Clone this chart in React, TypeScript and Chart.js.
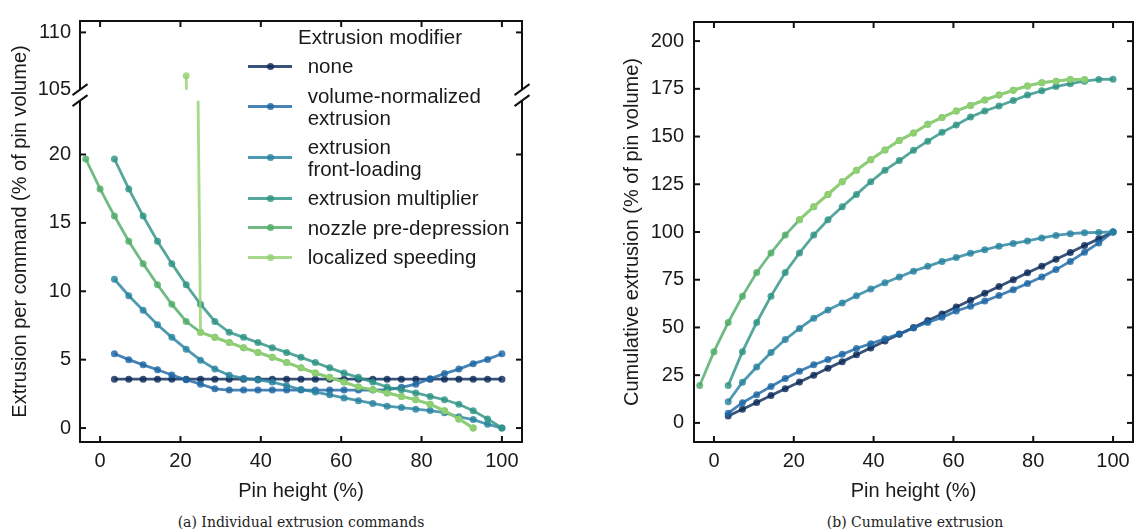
import React, { useEffect, useRef } from 'react';
import { Chart, registerables } from 'chart.js';

Chart.register(...registerables);

// ---------- data ----------
// pin-height positions of the printed commands (k = -1 .. 28)
const PIN_HEIGHT = [
  -3.57, 0, 3.57, 7.14, 10.71, 14.29, 17.86, 21.43, 25.0, 28.57, 32.14, 35.71, 39.29, 42.86, 46.43,
  50.0, 53.57, 57.14, 60.71, 64.29, 67.86, 71.43, 75.0, 78.57, 82.14, 85.71, 89.29, 92.86, 96.43, 100.0,
];

const X_TICKS = [0, 20, 40, 60, 80, 100];
const Y_TICKS_LOWER = [0, 5, 10, 15, 20];
const Y_TICKS_UPPER = [105, 110];
const Y_TICKS_CUM = [0, 25, 50, 75, 100, 125, 150, 175, 200];

const SERIES_LABELS = [
  ['none'],
  ['volume-normalized', 'extrusion'],
  ['extrusion', 'front-loading'],
  ['extrusion multiplier'],
  ['nozzle pre-depression'],
  ['localized speeding'],
];

// index into PIN_HEIGHT of the first value of each series
const SERIES_START = [2, 2, 2, 2, 0, 7];

// (a) individual extrusion commands (% of pin volume)
const NONE_CMD = [
  3.57, 3.57, 3.57, 3.57, 3.57, 3.57, 3.57, 3.57, 3.57, 3.57, 3.57, 3.57, 3.57, 3.57,
  3.57, 3.57, 3.57, 3.57, 3.57, 3.57, 3.57, 3.57, 3.57, 3.57, 3.57, 3.57, 3.57, 3.57,
];
const VOLNORM_CMD = [
  5.43, 5.0, 4.62, 4.26, 3.88, 3.53, 3.21, 2.87, 2.78, 2.78, 2.78, 2.78, 2.78, 2.78,
  2.78, 2.78, 2.78, 2.78, 2.78, 2.8, 2.98, 3.21, 3.6, 3.98, 4.31, 4.71, 5.02, 5.43,
];
const FRONTLOAD_CMD = [
  10.88, 9.67, 8.62, 7.55, 6.63, 5.77, 4.96, 4.32, 3.86, 3.64, 3.52, 3.36, 3.1, 2.82,
  2.63, 2.43, 2.2, 2.0, 1.8, 1.6, 1.5, 1.38, 1.28, 1.12, 0.82, 0.62, 0.28, 0,
];
const MULTIPLIER_CMD = [
  19.67, 17.48, 15.5, 13.66, 12.02, 10.48, 9.05, 7.79, 7.0, 6.63, 6.25, 5.87, 5.53, 5.17,
  4.79, 4.4, 4.02, 3.71, 3.36, 3.0, 2.8, 2.57, 2.31, 2.07, 1.74, 1.26, 0.67, 0,
];
const NOZZLE_CMD = [
  19.67, 17.48, 15.5, 13.66, 12.02, 10.48, 9.05, 7.79, 7.0, 6.63, 6.25, 5.87, 5.53, 5.17,
  4.79, 4.4, 4.02, 3.71, 3.36, 3.0, 2.8, 2.57, 2.31, 2.07, 1.74, 1.26, 0.67, 0,
];
const SPEEDING_CMD = [
  106.2, 7.0, 6.63, 6.25, 5.87, 5.53, 5.17, 4.79, 4.4, 4.02, 3.71, 3.36, 3.0, 2.8,
  2.57, 2.31, 2.07, 1.74, 1.26, 0.67, 0,
];

// (b) cumulative extrusion (% of pin volume)
const NONE_CUM = [
  3.6, 7.1, 10.7, 14.3, 17.9, 21.4, 25.0, 28.6, 32.1, 35.7, 39.3, 42.9, 46.4, 50.0,
  53.6, 57.1, 60.7, 64.3, 67.9, 71.4, 75.0, 78.6, 82.1, 85.7, 89.3, 92.9, 96.4, 100.0,
];
const VOLNORM_CUM = [
  5.1, 10.6, 14.8, 19.1, 23.3, 27.1, 30.5, 33.2, 35.9, 39.0, 41.5, 44.1, 46.6, 49.7,
  52.6, 55.3, 58.6, 61.1, 63.8, 66.7, 69.8, 73.0, 76.4, 80.3, 84.6, 89.4, 94.3, 100.0,
];
const FRONTLOAD_CUM = [
  11.1, 21.3, 29.3, 36.9, 43.7, 49.5, 54.8, 59.1, 62.8, 66.6, 70.1, 73.4, 76.4, 79.5,
  82.0, 84.6, 86.6, 88.9, 90.7, 92.6, 94.0, 95.3, 96.9, 98.2, 99.1, 99.6, 99.8, 100.0,
];
const MULTIPLIER_CUM = [
  19.6, 37.3, 52.6, 66.4, 78.8, 89.0, 98.4, 106.4, 113.2, 119.7, 126.3, 132.4, 137.4, 142.8,
  147.6, 152.2, 156.1, 160.2, 163.4, 166.0, 168.9, 171.7, 174.0, 176.2, 177.7, 179.0, 179.9, 180.0,
];
const NOZZLE_CUM = [
  19.6, 37.3, 52.6, 66.4, 78.8, 89.0, 98.4, 106.4, 113.2, 119.7, 126.3, 132.4, 137.9, 143.0,
  147.9, 151.8, 156.4, 160.0, 163.4, 166.3, 169.2, 171.7, 174.3, 176.5, 178.2, 179.0, 179.9, 179.9,
];
const SPEEDING_CUM = [
  106.4, 113.2, 119.7, 126.3, 132.4, 137.9, 143.0, 147.9, 151.8, 156.4, 160.0, 163.4, 166.3, 169.2,
  171.7, 174.3, 176.5, 178.2, 179.0, 179.9, 179.9,
];

// ---------- style ----------
const COLORS = [
  'rgba(14, 44, 90, 0.82)',
  'rgba(30, 104, 165, 0.82)',
  'rgba(42, 132, 160, 0.82)',
  'rgba(46, 148, 132, 0.82)',
  'rgba(80, 172, 105, 0.82)',
  'rgba(148, 210, 114, 0.82)',
];

const FONT = "'Liberation Sans', Arial, Helvetica, sans-serif";
const TEXT = '#1a1a1a';
const FS = 20;

function pts(start: number, values: number[]) {
  return values.map((v, i) => ({ x: PIN_HEIGHT[start + i], y: v }));
}

function lineDs(idx: number, values: number[], yAxisID: string, clip: any) {
  return {
    label: SERIES_LABELS[idx].join(' '),
    data: pts(SERIES_START[idx], values),
    borderColor: COLORS[idx],
    backgroundColor: COLORS[idx],
    pointBackgroundColor: COLORS[idx],
    pointBorderWidth: 0,
    pointRadius: 3.5,
    borderWidth: 2.8,
    tension: 0,
    yAxisID,
    xAxisID: 'x',
    order: 5 - idx,
    clip,
  };
}

function setTicks(values: number[]) {
  return (scale: any) => {
    scale.ticks = values.map((v) => ({ value: v }));
  };
}

function framePlugin(broken: boolean) {
  return {
    id: 'frame',
    afterDraw(chart: any) {
      const { ctx, chartArea } = chart;
      const { left, right, top, bottom } = chartArea;
      const xs = chart.scales.x;
      const TL = 6;
      ctx.save();
      ctx.strokeStyle = '#111';
      ctx.lineWidth = 2;
      const line = (x1: number, y1: number, x2: number, y2: number) => {
        ctx.beginPath();
        ctx.moveTo(x1, y1);
        ctx.lineTo(x2, y2);
        ctx.stroke();
      };
      ctx.lineCap = 'square';
      line(left, top, right, top);
      line(left, bottom, right, bottom);
      ctx.lineCap = 'butt';
      let yScales: any[] = [];
      let b1 = -1e9;
      let b2 = -1e9;
      if (broken) {
        const up = chart.scales.yTop;
        const lo = chart.scales.y;
        b1 = up.bottom - 5.5;
        b2 = lo.top + 5.5;
        for (const ex of [left, right]) {
          line(ex, top, ex, b1);
          line(ex, b2, ex, bottom);
          line(ex - 7.5, b1 + 5.5, ex + 7.5, b1 - 5.5);
          line(ex - 7.5, b2 + 5.5, ex + 7.5, b2 - 5.5);
        }
        yScales = [up, lo];
      } else {
        line(left, top, left, bottom);
        line(right, top, right, bottom);
        yScales = [chart.scales.y];
      }
      for (const t of xs.ticks) {
        const px = xs.getPixelForValue(t.value);
        line(px, bottom, px, bottom - TL);
        line(px, top, px, top + TL);
      }
      for (const ys of yScales) {
        for (const t of ys.ticks) {
          const py = ys.getPixelForValue(t.value);
          if (py > b1 - 3 && py < b2 + 3) continue;
          line(left, py, left + TL, py);
          line(right, py, right - TL, py);
        }
      }
      ctx.restore();
    },
  };
}

function xScale() {
  return {
    type: 'linear',
    position: 'bottom',
    min: -5,
    max: 105,
    afterBuildTicks: setTicks(X_TICKS),
    afterFit: (s: any) => {
      s.height = 63;
    },
    grid: { display: false, drawTicks: false },
    border: { display: false },
    ticks: { padding: 7, maxRotation: 0, color: TEXT, font: { size: FS, family: FONT } },
    title: {
      display: true,
      text: 'Pin height (%)',
      color: TEXT,
      font: { size: FS, family: FONT },
      padding: { top: 0, bottom: 2 },
    },
  };
}

function leftConfig(): any {
  const lowerClip = { left: 8, right: 8, top: -5.5, bottom: 8 };
  const upperClip = { left: 8, right: 8, top: 8, bottom: -5.5 };
  const datasets = [
    lineDs(0, NONE_CMD, 'y', lowerClip),
    lineDs(1, VOLNORM_CMD, 'y', lowerClip),
    lineDs(2, FRONTLOAD_CMD, 'y', lowerClip),
    lineDs(3, MULTIPLIER_CMD, 'y', lowerClip),
    lineDs(4, NOZZLE_CMD, 'y', lowerClip),
    lineDs(5, SPEEDING_CMD, 'y', lowerClip),
    lineDs(5, SPEEDING_CMD, 'yTop', upperClip),
  ];
  return {
    type: 'line',
    data: { datasets },
    plugins: [framePlugin(true)],
    options: {
      responsive: false,
      animation: false,
      events: [],
      layout: { padding: { left: 0, top: 11, right: 38, bottom: 0 } },
      plugins: { legend: { display: false }, tooltip: { enabled: false } },
      scales: {
        x: xScale(),
        yT: {
          type: 'linear',
          position: 'left',
          weight: 10,
          afterFit: (s: any) => {
            s.width = 38;
          },
          grid: { display: false, drawTicks: false },
          border: { display: false },
          ticks: { display: false },
          title: {
            display: true,
            text: 'Extrusion per command (% of pin volume)',
            color: TEXT,
            font: { size: FS, family: FONT },
            padding: { top: 8, bottom: 0 },
          },
        },
        yTop: {
          type: 'linear',
          position: 'left',
          stack: 'broken',
          stackWeight: 75.9,
          weight: 5,
          min: 104.5,
          max: 111,
          afterBuildTicks: setTicks(Y_TICKS_UPPER),
          afterFit: (s: any) => {
            s.width = 42;
          },
          grid: { display: false, drawTicks: false },
          border: { display: false },
          ticks: { padding: 9, color: TEXT, font: { size: FS, family: FONT } },
        },
        y: {
          type: 'linear',
          position: 'left',
          stack: 'broken',
          stackWeight: 355.1,
          weight: 0,
          min: -1.02,
          max: 24.34,
          afterBuildTicks: setTicks(Y_TICKS_LOWER),
          afterFit: (s: any) => {
            s.width = 42;
          },
          grid: { display: false, drawTicks: false },
          border: { display: false },
          ticks: { padding: 9, color: TEXT, font: { size: FS, family: FONT } },
        },
      },
    },
  };
}

function rightConfig(): any {
  const clip = 8;
  const datasets = [
    lineDs(0, NONE_CUM, 'y', clip),
    lineDs(1, VOLNORM_CUM, 'y', clip),
    lineDs(2, FRONTLOAD_CUM, 'y', clip),
    lineDs(3, MULTIPLIER_CUM, 'y', clip),
    lineDs(4, NOZZLE_CUM, 'y', clip),
    lineDs(5, SPEEDING_CUM, 'y', clip),
  ];
  return {
    type: 'line',
    data: { datasets },
    plugins: [framePlugin(false)],
    options: {
      responsive: false,
      animation: false,
      events: [],
      layout: { padding: { left: 0, top: 11, right: 1, bottom: 0 } },
      plugins: { legend: { display: false }, tooltip: { enabled: false } },
      scales: {
        x: xScale(),
        y: {
          type: 'linear',
          position: 'left',
          min: -10,
          max: 210,
          afterBuildTicks: setTicks(Y_TICKS_CUM),
          afterFit: (s: any) => {
            s.width = 134;
          },
          grid: { display: false, drawTicks: false },
          border: { display: false },
          ticks: { padding: 10, color: TEXT, font: { size: FS, family: FONT } },
          title: {
            display: true,
            text: 'Cumulative extrusion (% of pin volume)',
            color: TEXT,
            font: { size: FS, family: FONT },
            padding: { top: 60, bottom: 0 },
          },
        },
      },
    },
  };
}

function Legend() {
  return (
    <div
      style={{
        position: 'absolute',
        left: 248,
        top: 25.85,
        display: 'flex',
        flexDirection: 'column',
        gap: 7.8,
        fontFamily: FONT,
        fontSize: 20.5,
        lineHeight: '21.7px',
        color: TEXT,
        whiteSpace: 'nowrap',
      }}
    >
      <div style={{ marginLeft: 50 }}>Extrusion modifier</div>
      {SERIES_LABELS.map((lines, i) => (
        <div key={i} style={{ display: 'flex', alignItems: 'center' }}>
          <div style={{ position: 'relative', width: 44, height: 2.8, background: COLORS[i], marginRight: 15.7 }}>
            <div
              style={{
                position: 'absolute',
                left: 22 - 3.5,
                top: 1.4 - 3.5,
                width: 7,
                height: 7,
                borderRadius: '50%',
                background: COLORS[i],
              }}
            />
          </div>
          <div>
            {lines.map((l, j) => (
              <div key={j}>{l}</div>
            ))}
          </div>
        </div>
      ))}
    </div>
  );
}

const captionStyle: React.CSSProperties = {
  position: 'absolute',
  top: 512,
  height: 20,
  lineHeight: '20px',
  fontFamily: "'DejaVu Serif', serif",
  fontSize: 14,
  color: '#222',
  textAlign: 'center',
  whiteSpace: 'nowrap',
};

export default function App() {
  const leftRef = useRef<HTMLCanvasElement>(null);
  const rightRef = useRef<HTMLCanvasElement>(null);

  useEffect(() => {
    Chart.defaults.font.family = FONT;
    Chart.defaults.color = TEXT;
    const a = new Chart(leftRef.current as HTMLCanvasElement, leftConfig());
    const b = new Chart(rightRef.current as HTMLCanvasElement, rightConfig());
    return () => {
      a.destroy();
      b.destroy();
    };
  }, []);

  return (
    <div
      style={{
        position: 'absolute',
        left: 0,
        top: 0,
        width: 1137,
        height: 531,
        background: '#fff',
        overflow: 'hidden',
      }}
    >
      <canvas
        ref={leftRef}
        width={560}
        height={505}
        style={{ position: 'absolute', left: 0, top: 0, width: 560, height: 505 }}
      />
      <canvas
        ref={rightRef}
        width={577}
        height={505}
        style={{ position: 'absolute', left: 560, top: 0, width: 577, height: 505 }}
      />
      <Legend />
      <div style={{ ...captionStyle, left: 101, width: 400 }}>(a) Individual extrusion commands</div>
      <div style={{ ...captionStyle, left: 715, width: 400 }}>(b) Cumulative extrusion</div>
    </div>
  );
}
